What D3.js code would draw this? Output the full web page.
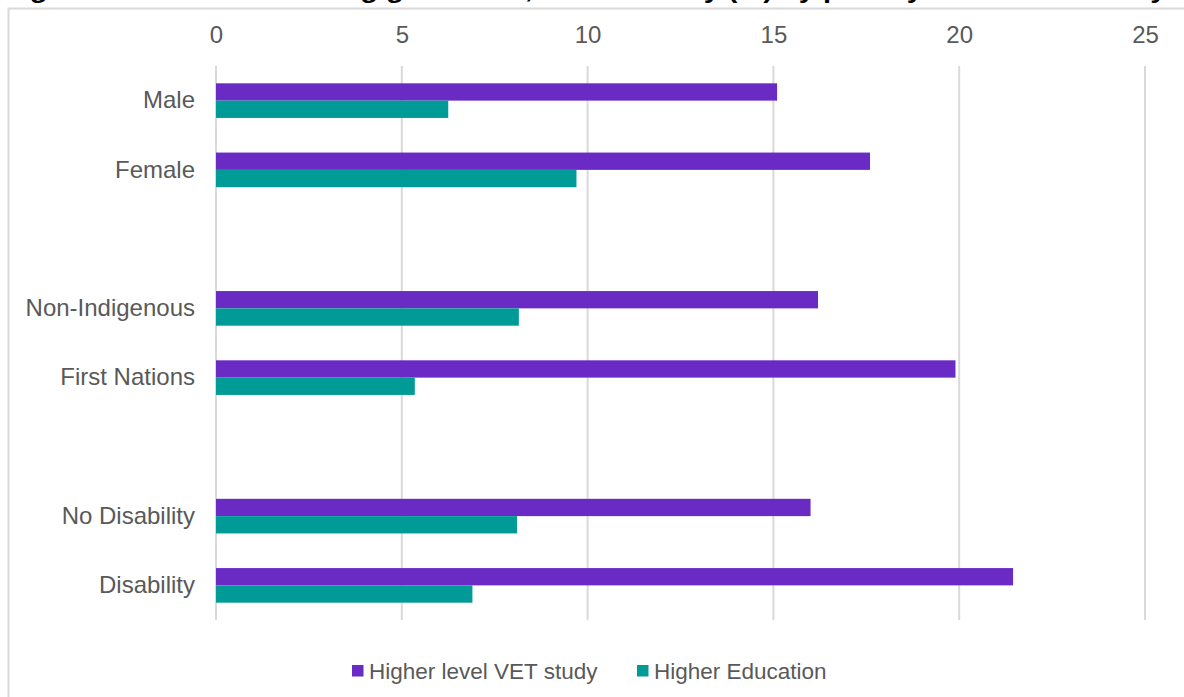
<!DOCTYPE html>
<html><head><meta charset="utf-8">
<script src="https://cdn.jsdelivr.net/npm/d3@7"></script>
<style>body{margin:0;background:#fff;overflow:hidden}svg{display:block}</style>
</head><body>
<svg id="c" width="1184" height="697"></svg>
<script>
const categories = ["Male","Female","","Non-Indigenous","First Nations","","No Disability","Disability"];
const vetValues = [15.1, 17.6, null, 16.2, 19.9, null, 16.0, 21.45];
const heValues  = [6.25, 9.7, null, 8.15, 5.35, null, 8.1, 6.9];
const seriesNames = ["Higher level VET study","Higher Education"];
const tickValues = [0,5,10,15,20,25];
const colors = ["#6A2BC4","#009B97"];
const title = "Figure 5: 2022 VET training graduates, further study (%) by priority cohort and study type";

const svg = d3.select("#c");
const font = "Arial, 'Liberation Sans', sans-serif";

// clipped title
svg.append("text").attr("x",4).attr("y",-2).attr("font-family",font).attr("font-weight","bold")
  .attr("font-size",24).attr("fill","#000").attr("textLength",1230).attr("lengthAdjust","spacingAndGlyphs").text(title);

// frame
svg.append("rect").attr("x",8.5).attr("y",8.5).attr("width",1200).attr("height",720)
  .attr("fill","none").attr("stroke","#d9d9d9").attr("stroke-width",2);

const x = d3.scaleLinear().domain([0,25]).range([216,1145]);
const y = d3.scaleBand().domain(d3.range(categories.length)).range([66,620]).paddingInner(0.5).paddingOuter(0.25);
const sub = d3.scaleBand().domain([0,1]).range([0,y.bandwidth()]);

// gridlines
svg.append("g").selectAll("line").data(tickValues).join("line")
  .attr("x1",d=>x(d)).attr("x2",d=>x(d)).attr("y1",66).attr("y2",620)
  .attr("stroke","#d9d9d9").attr("stroke-width",2);

// top axis labels
const ax = svg.append("g").attr("transform","translate(0,35)")
  .call(d3.axisTop(x).tickValues(tickValues).tickSize(0).tickPadding(0));
ax.select(".domain").remove();
ax.selectAll("text").attr("font-family",font).attr("font-size",24).attr("fill","#595959").attr("dy","0.35em");

// category labels
const yl = svg.append("g").attr("transform","translate(195,0)")
  .call(d3.axisLeft(y).tickFormat(i=>categories[i]).tickSize(0).tickPadding(0));
yl.select(".domain").remove();
yl.selectAll("text").attr("font-family",font).attr("font-size",24).attr("fill","#595959");

const series = [vetValues, heValues];
series.forEach((vals,si)=>{
  svg.append("g").selectAll("rect").data(vals.map((v,i)=>({v,i})).filter(d=>d.v!=null)).join("rect")
    .attr("x",x(0)).attr("y",d=>y(d.i)+sub(si)).attr("height",sub.bandwidth())
    .attr("width",d=>x(d.v)-x(0)).attr("fill",colors[si]);
});

// legend
const leg = svg.append("g");
const lx = [352, 637];
seriesNames.forEach((n,i)=>{
  leg.append("rect").attr("x",lx[i]).attr("y",665).attr("width",11.5).attr("height",11.5).attr("fill",colors[i]);
  leg.append("text").attr("x",lx[i]+17).attr("y",671).attr("dy","0.35em").attr("font-family",font)
    .attr("font-size",22.5).attr("fill","#595959").text(n);
});
</script>
</body></html>
